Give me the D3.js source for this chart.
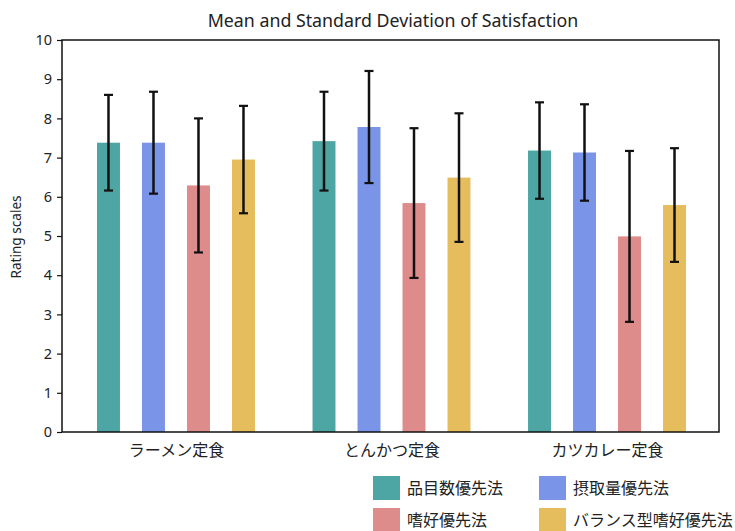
<!DOCTYPE html>
<html><head><meta charset="utf-8">
<script src="https://cdn.jsdelivr.net/npm/d3@7"></script>
<style>body{margin:0;background:#fff}svg{display:block}text{font-family:"Noto Sans","Noto Sans CJK JP",sans-serif;fill:#222}</style>
</head><body><svg id="c" width="735" height="531"></svg>
<script>
const categories = ["ラーメン定食", "とんかつ定食", "カツカレー定食"];
const series = ["品目数優先法", "摂取量優先法", "嗜好優先法", "バランス型嗜好優先法"];
const colors = ["#4ea6a4", "#7a94e8", "#de8b8c", "#e6bd5d"];
// means[series][category]
const means = [
  [7.38, 7.42, 7.18],
  [7.38, 7.78, 7.13],
  [6.29, 5.84, 4.99],
  [6.95, 6.49, 5.79]
];
const sds = [
  [1.22, 1.26, 1.23],
  [1.30, 1.43, 1.23],
  [1.71, 1.91, 2.18],
  [1.37, 1.64, 1.45]
];
const yTicks = [0,1,2,3,4,5,6,7,8,9,10];
const title = "Mean and Standard Deviation of Satisfaction";
const yLabel = "Rating scales";

const svg = d3.select("#c");
const m = {l:62, r:719, t:40, b:432};
const y = d3.scaleLinear().domain([0,10]).range([m.b, m.t]);
const x = d3.scalePoint().domain(categories).range([m.l+3, m.r-1]).padding(0.515);
const xi = d3.scaleBand().domain(series).range([-90, 90]);
const bw = xi.bandwidth()*0.51;

const data = [];
series.forEach((s,si)=>categories.forEach((c,ci)=>data.push({s,si,c,mean:means[si][ci],sd:sds[si][ci]})));

const g = svg.append("g");
g.selectAll("rect.bar").data(data).join("rect")
  .attr("x", d=>x(d.c)+xi(d.s)+(xi.bandwidth()-bw)/2)
  .attr("width", bw)
  .attr("y", d=>y(d.mean))
  .attr("height", d=>y(0)-y(d.mean))
  .attr("fill", d=>colors[d.si]);

const cx = d=>x(d.c)+xi(d.s)+xi.bandwidth()/2;
g.selectAll("line.err").data(data).join("line")
  .attr("x1", cx).attr("x2", cx)
  .attr("y1", d=>y(d.mean+d.sd)).attr("y2", d=>y(d.mean-d.sd))
  .attr("stroke","#111").attr("stroke-width",2.5);
[1,-1].forEach(sg=>{
  g.selectAll(null).data(data).join("line")
    .attr("x1", d=>cx(d)-4.5).attr("x2", d=>cx(d)+4.5)
    .attr("y1", d=>y(d.mean+sg*d.sd)).attr("y2", d=>y(d.mean+sg*d.sd))
    .attr("stroke","#111").attr("stroke-width",2.2);
});

// frame
svg.append("rect").attr("x",m.l).attr("y",m.t).attr("width",m.r-m.l).attr("height",m.b-m.t)
  .attr("fill","none").attr("stroke","#111").attr("stroke-width",1.5);

// y axis
const ya = svg.append("g").attr("transform",`translate(${m.l},0)`)
  .call(d3.axisLeft(y).tickValues(yTicks).tickSize(5).tickPadding(5).tickFormat(d3.format("d")));
ya.select(".domain").remove();
ya.selectAll("line").attr("stroke","#111").attr("stroke-width",1.2);
ya.selectAll("text").attr("font-size",14.5).style("font-family","'Noto Sans',sans-serif").attr("fill","#333");

// x labels
const xa = svg.append("g").attr("transform",`translate(0,${m.b})`)
  .call(d3.axisBottom(x).tickSize(0).tickPadding(13));
xa.select(".domain").remove();
xa.selectAll("text").attr("font-size",16).style("font-family","'Noto Sans CJK JP',sans-serif").attr("fill","#222");

svg.append("text").attr("x",393).attr("y",27).attr("text-anchor","middle").attr("font-size",17.8).attr("fill","#222").text(title);
svg.append("text").attr("transform","translate(21,237) rotate(-90)").attr("text-anchor","middle").attr("font-size",13.6).attr("fill","#333").text(yLabel);

// legend
const lx = [373, 539], ly = [476, 508];
series.forEach((s,i)=>{
  const col=i%2,row=Math.floor(i/2);
  svg.append("rect").attr("x",lx[col]).attr("y",ly[row]).attr("width",27).attr("height",24).attr("fill",colors[i]);
  svg.append("text").attr("x",lx[col]+34).attr("y",ly[row]+12).attr("dy","0.35em")
    .attr("font-size",16).style("font-family","'Noto Sans CJK JP',sans-serif").attr("fill","#222").text(s);
});
</script></body></html>
